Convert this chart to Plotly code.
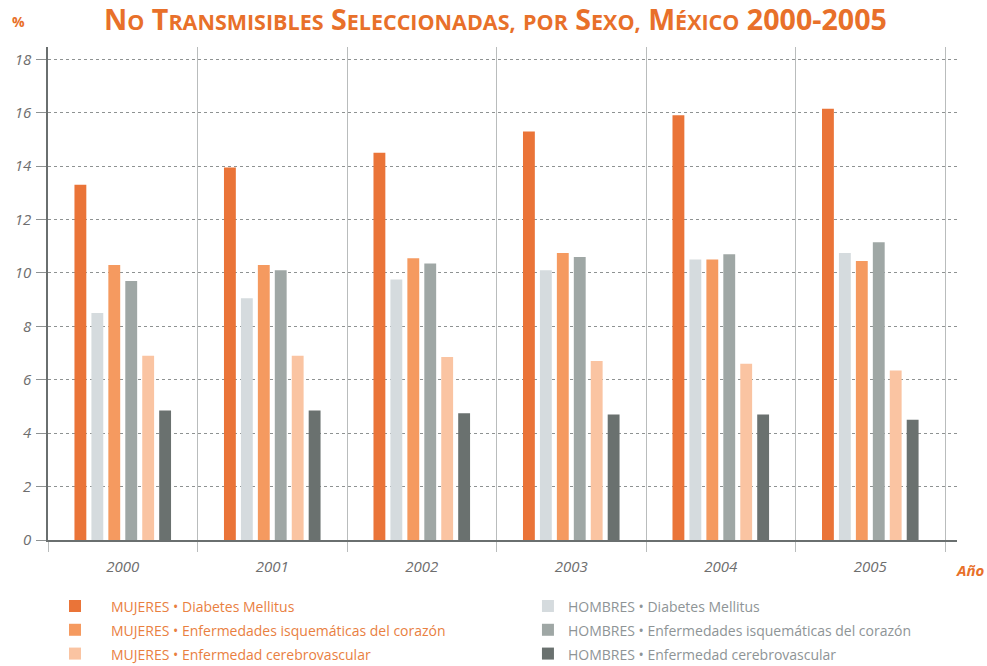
import plotly.graph_objects as go

years = ["2000", "2001", "2002", "2003", "2004", "2005"]

muj_diabetes = [13.3, 13.95, 14.5, 15.3, 15.9, 16.15]
hom_diabetes = [8.5, 9.05, 9.75, 10.1, 10.5, 10.75]
muj_isquemicas = [10.3, 10.3, 10.55, 10.75, 10.5, 10.45]
hom_isquemicas = [9.7, 10.1, 10.35, 10.6, 10.7, 11.15]
muj_cerebro = [6.9, 6.9, 6.85, 6.7, 6.6, 6.35]
hom_cerebro = [4.85, 4.85, 4.75, 4.7, 4.7, 4.5]

series = [
    ("MUJERES", "Diabetes Mellitus", muj_diabetes, "#EA7438", "#E9803F", "legend"),
    ("HOMBRES", "Diabetes Mellitus", hom_diabetes, "#D5DBDE", "#8E9496", "legend2"),
    ("MUJERES", "Enfermedades isquemáticas del corazón", muj_isquemicas, "#F59A60", "#E9803F", "legend"),
    ("HOMBRES", "Enfermedades isquemáticas del corazón", hom_isquemicas, "#9FA7A5", "#8E9496", "legend2"),
    ("MUJERES", "Enfermedad cerebrovascular", muj_cerebro, "#FAC4A2", "#E9803F", "legend"),
    ("HOMBRES", "Enfermedad cerebrovascular", hom_cerebro, "#6A716F", "#8E9496", "legend2"),
]

fig = go.Figure()
for sex, cause, vals, color, tcolor, leg in series:
    pad = "\u2002\u2002" if leg == "legend" else ""
    name = ("%s<span style='color:%s;font-size:14px'>%s \u2022 %s</span>"
            % (pad, tcolor, sex, cause))
    fig.add_trace(go.Bar(x=years, y=vals, name=name, marker_color=color,
                         marker_line_width=0, legend=leg))


def small_caps(text, small=21.5):
    out = []
    for word in text.split(" "):
        if word and word[0].isalpha() and word[0].isupper() and len(word) > 1:
            out.append("%s<span style='font-size:%spx'>%s</span>" % (word[0], small, word[1:].upper()))
        elif word and word[0].isalpha() and word[0].islower():
            out.append("<span style='font-size:%spx'>%s</span>" % (small, word.upper()))
        else:
            out.append(word)
    return " ".join(out)


title_text = small_caps("No Transmisibles Seleccionadas, por Sexo, México 2000-2005")

orange = "#E8702A"
gray_txt = "#6E6E6E"

legend_common = dict(orientation="v", xanchor="left", yref="container", y=0.1155,
                     yanchor="top", font=dict(family="Open Sans", size=16, color=gray_txt),
                     traceorder="normal", bgcolor="rgba(0,0,0,0)")

fig.update_layout(
    width=987, height=666,
    margin=dict(l=48, r=30, t=47, b=126),
    paper_bgcolor="white", plot_bgcolor="white",
    barmode="group", bargap=0.32, bargroupgap=0.3,
    font=dict(family="Open Sans", color=gray_txt),
    showlegend=True,
    legend=dict(x=0.0077, **legend_common),
    legend2=dict(x=0.528, **legend_common),
    xaxis=dict(type="category", range=[-0.5, 5.58], tickson="boundaries",
               showgrid=True, gridcolor="#B9BCBC", gridwidth=1,
               showline=True, linecolor="#6A6F6F", linewidth=1.5,
               ticks="outside", ticklen=10, tickcolor="#B9BCBC",
               tickfont=dict(family="Open Sans", size=15, color=gray_txt, style="italic"),
               ticklabelstandoff=12, zeroline=False),
    yaxis=dict(range=[0, 18.46], tickvals=[0, 2, 4, 6, 8, 10, 12, 14, 16, 18],
               showgrid=True, gridcolor="#8E9292", griddash="dot", gridwidth=1,
               showline=True, linecolor="#6A6F6F", linewidth=1.5,
               ticks="outside", ticklen=10, tickcolor="#8E9292",
               tickfont=dict(family="Open Sans", size=15, color=gray_txt, style="italic"),
               ticklabelstandoff=2, zeroline=False),
    annotations=[
        dict(text=title_text, xref="paper", yref="paper", x=0.492, y=1.057,
             xanchor="center", yanchor="middle", showarrow=False,
             font=dict(family="Open Sans", size=28.6, color=orange, weight="bold")),
        dict(text="%", xref="paper", yref="paper", x=-0.033, y=1.052,
             xanchor="center", yanchor="middle", showarrow=False,
             font=dict(family="Open Sans", size=14, color=orange, weight="bold")),
        dict(text="Año", xref="paper", yref="paper", x=1.0143, y=-0.061,
             xanchor="center", yanchor="middle", showarrow=False,
             font=dict(family="Open Sans", size=15, color=orange, style="italic", weight="bold")),
    ],
)

fig.write_html("out.html")
